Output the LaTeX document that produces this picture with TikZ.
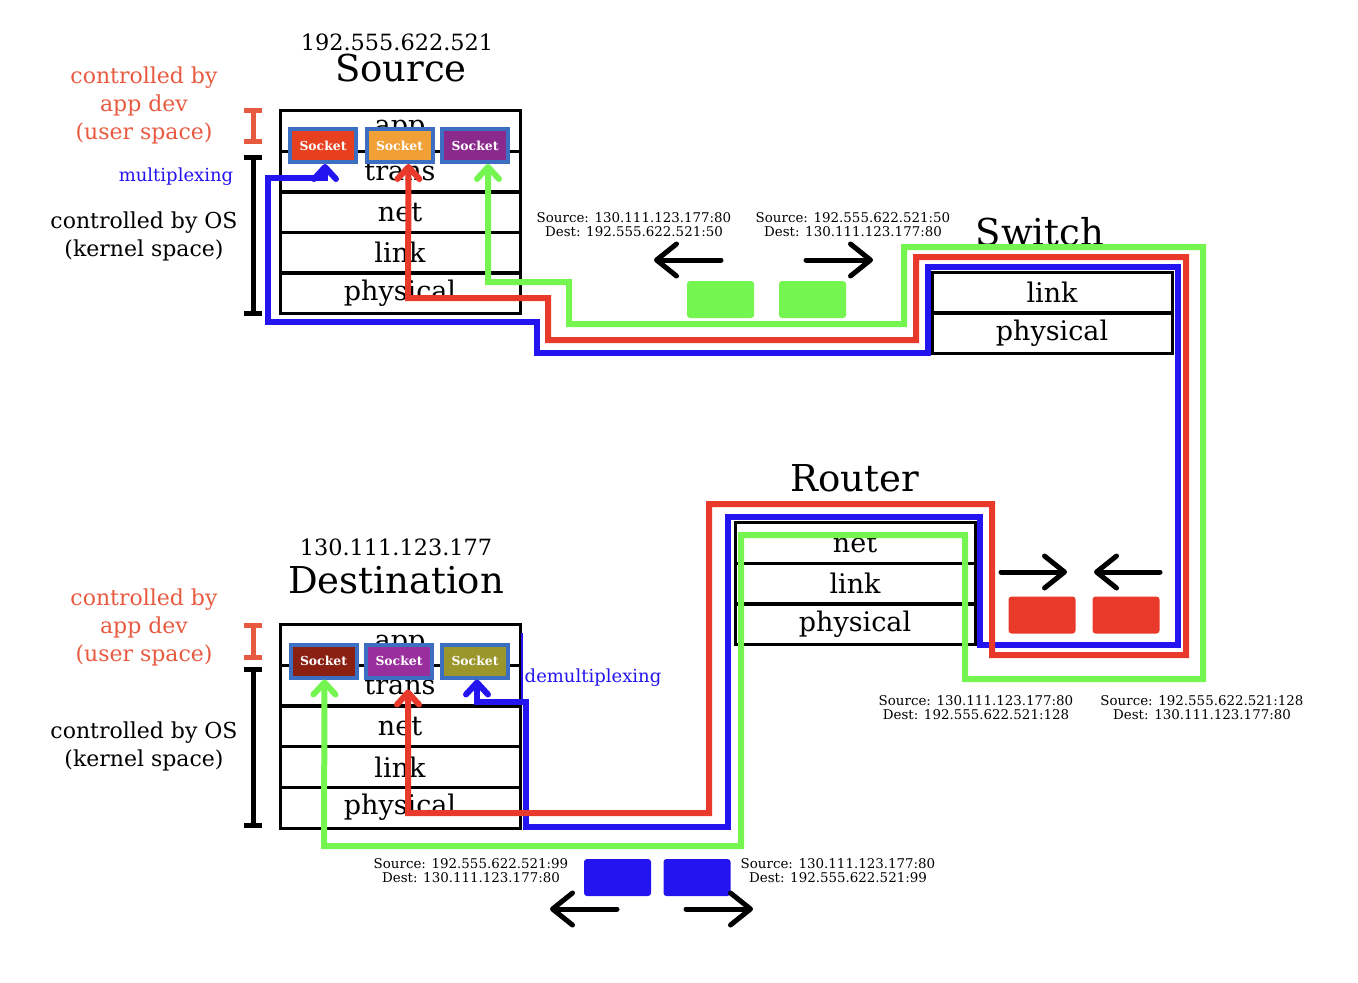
\documentclass[tikz,border=0pt]{standalone}
\usepackage{fontspec}
\setmainfont{DejaVu Serif}
\usetikzlibrary{arrows.meta}

\definecolor{wirered}{HTML}{E8392A}
\definecolor{wiregreen}{HTML}{74F54F}
\definecolor{wireblue}{HTML}{2414F0}
\definecolor{devred}{HTML}{E85A40}
\definecolor{sockblue}{HTML}{3C6FC2}
\definecolor{sockred}{HTML}{E8401F}
\definecolor{sockorange}{HTML}{F0A035}
\definecolor{sockpurple}{HTML}{8A2A8C}
\definecolor{sockdark}{HTML}{8A2012}
\definecolor{sockviolet}{HTML}{982F9C}
\definecolor{sockolive}{HTML}{9A962C}

\tikzset{
  layer/.style={draw, line width=1.5pt, minimum width=120pt, minimum height=20.5pt, inner sep=0pt, font=\fontsize{13.5}{14}\selectfont},
  sock/.style={draw=sockblue, line width=2pt, fill=#1, minimum width=33pt, minimum height=16.5pt, inner sep=0pt, text=white, font=\fontsize{6.2}{6}\selectfont\bfseries},
  wire/.style={line width=3pt, draw=#1, {Straight Barb[length=6pt,width=11pt,round]}-{Straight Barb[length=6pt,width=11pt,round]}},
  pkt/.style={fill=#1, rounded corners=1.5pt, minimum width=33.5pt, minimum height=18.5pt, inner sep=0pt},
  hdr/.style={align=center, font=\fontsize{6.7}{7}\selectfont, inner sep=0pt},
  flow/.style={line width=2.5pt, line cap=round, -{Straight Barb[length=10pt,width=16pt,round]}},
  title/.style={font=\fontsize{18.5}{20}\selectfont, inner sep=0pt},
  ip/.style={font=\fontsize{11.2}{12}\selectfont, inner sep=0pt},
  side/.style={align=center, font=\fontsize{11}{14}\selectfont, inner sep=0pt},
  span/.style={line width=2.5pt, {Bar[width=9pt]}-{Bar[width=9pt]}},
}

\begin{document}
\begin{tikzpicture}[x=0.5pt,y=-0.5pt]
    \useasboundingbox (0,0) rectangle (1358,982);

    % source host
    \node[ip] (sip) at (397,42) {192.555.622.521};
    \node[title] (stitle) at (401,68) {Source};
    \node[layer] (sapp) at (400,130.5) {app};
    \node[layer] (strans) at (400,171.5) {trans};
    \node[layer] (snet) at (400,212) {net};
    \node[layer] (slink) at (400,252.5) {link};
    \node[layer] (sphys) at (400,293) {physical};
    \node[sock=sockred] (ss1) at (323,145.5) {Socket};
    \node[sock=sockorange] (ss2) at (399.5,145.5) {Socket};
    \node[sock=sockpurple] (ss3) at (475,145.5) {Socket};
    \node[side, text=devred] (suser) at (144,105.5) {controlled by\\app dev\\(user space)};
    \node[side] (skern) at (144,236) {controlled by OS\\(kernel space)};
    \node[font=\fontsize{9}{10}\selectfont, text=wireblue, inner sep=0pt] (smux) at (176,177) {multiplexing};
    \draw[span, devred] (253,108) -- (253,144);
    \draw[span] (253,155) -- (253,316);

    % destination host
    \node[ip] (dip) at (396,547) {130.111.123.177};
    \node[title] (dtitle) at (396,580) {Destination};
    \node[layer] (dapp) at (400,645) {app};
    \node[layer] (dtrans) at (400,685.5) {trans};
    \node[layer] (dnet) at (400,726) {net};
    \node[layer] (dlink) at (400,767) {link};
    \node[layer] (dphys) at (400,807.5) {physical};
    \node[sock=sockdark] (ds1) at (323.5,661) {Socket};
    \node[sock=sockviolet] (ds2) at (399,661) {Socket};
    \node[sock=sockolive] (ds3) at (475,661) {Socket};
    \node[side, text=devred] (duser) at (144,627.5) {controlled by\\app dev\\(user space)};
    \node[side] (dkern) at (144,746) {controlled by OS\\(kernel space)};
    \node[font=\fontsize{9}{10}\selectfont, text=wireblue, inner sep=0pt] (ddemux) at (593,678) {demultiplexing};
    \draw[span, devred] (253,623) -- (253,660);
    \draw[span] (253,667) -- (253,828);

    % switch and router
    \node[title] (swtitle) at (1040,232) {Switch};
    \node[layer] (swlink) at (1052,292.5) {link};
    \node[layer] (swphys) at (1052,333) {physical};
    \node[title] (rtitle) at (855,478.5) {Router};
    \node[layer] (rnet) at (855,543) {net};
    \node[layer] (rlink) at (855,583.5) {link};
    \node[layer] (rphys) at (855,624) {physical};

    % the three flows
    \draw[wireblue, line width=0.8pt] (522,633) -- (522,702);
    \draw[wire=wireblue] ([xshift=1pt]ss1.south) -- (325,178) -- (268,178) -- (268,322) -- (537,322) -- (537,353) -- (928,353) -- (928,267) -- (1178,267) -- (1178,645) -- (980,645) -- (980,517) -- (728,517) -- (728,827) -- (526,827) -- (526,702) -- (477,702) -- ([xshift=1pt]ds3.south);
    \draw[wire=wirered] ([xshift=4.5pt]ss2.south) -- (408,298) -- (548,298) -- (548,340) -- (916,340) -- (916,257) -- (1186,257) -- (1186,655) -- (992,655) -- (992,504) -- (709,504) -- (709,813) -- (408,813) -- ([xshift=4.5pt,yshift=-5pt]ds2.south);
    \draw[wire=wiregreen] ([xshift=6.5pt]ss3.south) -- (488,282) -- (569,282) -- (569,324) -- (904,324) -- (904,247) -- (1203,247) -- (1203,679) -- (965,679) -- (965,535) -- (741,535) -- (741,846) -- (324,846) -- ([xshift=0.5pt]ds1.south);

    % packets
    \node[pkt=wiregreen] (gp1) at (720.5,299.5) {};
    \node[pkt=wiregreen] (gp2) at (812.5,299.5) {};
    \node[hdr] (gh1) at (634,225) {Source: 130.111.123.177:80\\Dest: 192.555.622.521:50};
    \node[hdr] (gh2) at (853,225) {Source: 192.555.622.521:50\\Dest: 130.111.123.177:80};
    \draw[flow] (721,260) -- (654,260);
    \draw[flow] (806,260) -- (873,260);

    \node[pkt=wirered] (rp1) at (1042,615) {};
    \node[pkt=wirered] (rp2) at (1126,615) {};
    \node[hdr] (rh1) at (976,708) {Source: 130.111.123.177:80\\Dest: 192.555.622.521:128};
    \node[hdr] (rh2) at (1202,708) {Source: 192.555.622.521:128\\Dest: 130.111.123.177:80};
    \draw[flow] (1001,572) -- (1067,572);
    \draw[flow] (1160,572) -- (1094,572);

    \node[pkt=wireblue] (bp1) at (617.5,877.5) {};
    \node[pkt=wireblue] (bp2) at (697,877.5) {};
    \node[hdr] (bh1) at (471,871) {Source: 192.555.622.521:99\\Dest: 130.111.123.177:80};
    \node[hdr] (bh2) at (838,871) {Source: 130.111.123.177:80\\Dest: 192.555.622.521:99};
    \draw[flow] (617,909) -- (550,909);
    \draw[flow] (686,909) -- (753,909);
  \end{tikzpicture}
\end{document}
